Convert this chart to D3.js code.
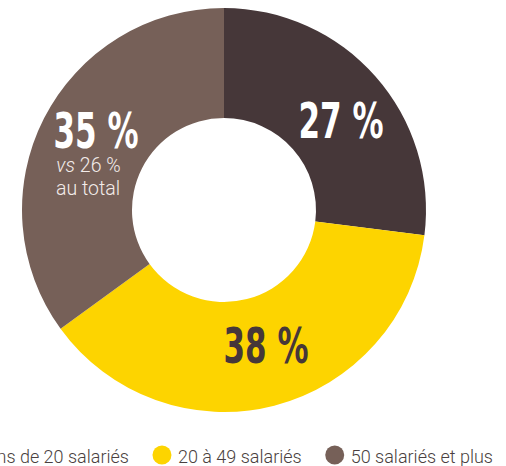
<!DOCTYPE html>
<html><head><meta charset="utf-8">
<script src="https://cdn.jsdelivr.net/npm/d3@7"></script>
<style>html,body{margin:0;padding:0;background:#fff;overflow:hidden}</style>
</head><body>
<svg id="c" width="506" height="466"></svg>
<script>
const categories = ["Moins de 20 salariés", "20 à 49 salariés", "50 salariés et plus"];
const values = [27, 38, 35];
const labels = ["27 %", "38 %", "35 %"];
const subLabels = ["vs 26 %", "au total"];
const colors = ["#463739", "#fdd400", "#766058"];
const labelColors = ["#ffffff", "#463739", "#ffffff"];

const svg = d3.select("#c");
const cx = 224, cy = 210, R = 202, r = 92;
const g = svg.append("g").attr("transform", `translate(${cx},${cy})`);
const pie = d3.pie().sort(null).value(d => d)(values);
const arc = d3.arc().innerRadius(r).outerRadius(R);
g.selectAll("path").data(pie).join("path").attr("d", arc).attr("fill", (d,i) => colors[i]);

// big labels
const labelPos = [[341, 138], [266, 363], [96, 148]];
const labelW = 85;
labels.forEach((t, i) => {
  svg.append("text").attr("x", labelPos[i][0]).attr("y", labelPos[i][1])
    .attr("text-anchor", "middle")
    .attr("font-family", "'DejaVu Sans Condensed','DejaVu Sans',sans-serif")
    .attr("font-weight", "bold").attr("font-size", 49)
    .attr("textLength", labelW).attr("lengthAdjust", "spacingAndGlyphs")
    .attr("fill", labelColors[i]).text(t);
});
const sub = svg.append("g").attr("font-family", "Roboto, 'Liberation Sans', sans-serif")
  .attr("font-weight", 300).attr("font-size", 19.5).attr("fill", "#f3ecea").attr("text-anchor", "middle");
const t1 = sub.append("text").attr("x", 88.5).attr("y", 172);
t1.append("tspan").attr("font-style", "italic").text(subLabels[0].split(" ")[0]);
t1.append("tspan").text(" " + subLabels[0].split(" ").slice(1).join(" "));
sub.append("text").attr("x", 88).attr("y", 195).text(subLabels[1]);

// legend, right-aligned
const lg = svg.append("g");
const items = categories.map((c, i) => {
  const it = lg.append("g");
  it.append("circle").attr("r", 9.5).attr("cy", 455).attr("fill", colors[i]);
  const tx = it.append("text").attr("x", 16).attr("y", 463)
    .attr("font-family", "Roboto, 'Liberation Sans', sans-serif").attr("font-weight", 300)
    .attr("font-size", 18).attr("fill", "#4a3f40").text(c);
  return {it, w: tx.node().getComputedTextLength()};
});
let xEnd = 493;
for (let i = items.length - 1; i >= 0; i--) {
  const cxp = xEnd - items[i].w - 16;
  items[i].it.attr("transform", `translate(${cxp},0)`);
  xEnd = cxp - 33;
}
</script>
</body></html>
